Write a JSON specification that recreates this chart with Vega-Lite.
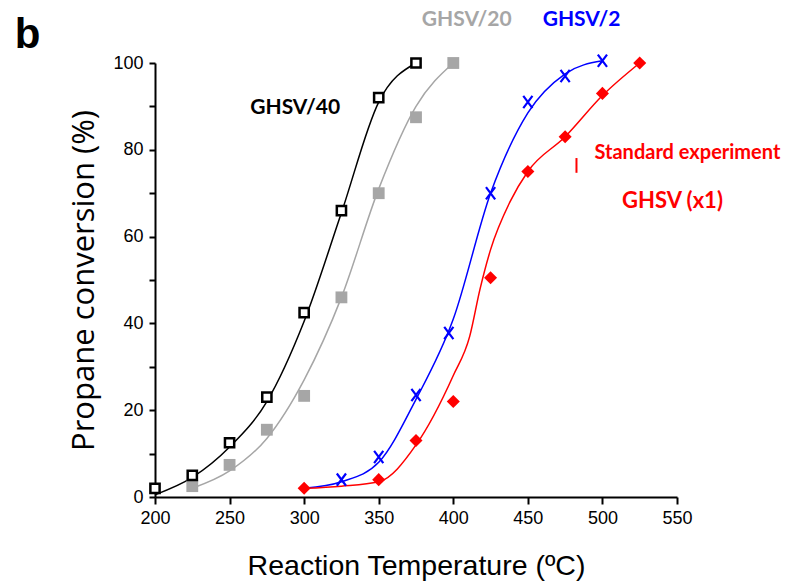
{
  "$schema": "https://vega.github.io/schema/vega-lite/v6.json",
  "width": 522,
  "height": 434,
  "autosize": "none",
  "padding": {"left": 155, "top": 63, "right": 112, "bottom": 85},
  "background": "white",
  "config": {"view": {"stroke": null}},
  "datasets": {
    "points": [
      {"series": "GHSV/40", "temp": 200, "conv": 2},
      {"series": "GHSV/40", "temp": 225, "conv": 5},
      {"series": "GHSV/40", "temp": 250, "conv": 12.5},
      {"series": "GHSV/40", "temp": 275, "conv": 23},
      {"series": "GHSV/40", "temp": 300, "conv": 42.5},
      {"series": "GHSV/40", "temp": 325, "conv": 66},
      {"series": "GHSV/40", "temp": 350, "conv": 92},
      {"series": "GHSV/40", "temp": 375, "conv": 100},
      {"series": "GHSV/20", "temp": 225, "conv": 2.5},
      {"series": "GHSV/20", "temp": 250, "conv": 7.4},
      {"series": "GHSV/20", "temp": 275, "conv": 15.5},
      {"series": "GHSV/20", "temp": 300, "conv": 23.3},
      {"series": "GHSV/20", "temp": 325, "conv": 46},
      {"series": "GHSV/20", "temp": 350, "conv": 70},
      {"series": "GHSV/20", "temp": 375, "conv": 87.5},
      {"series": "GHSV/20", "temp": 400, "conv": 100},
      {"series": "GHSV/2", "temp": 325, "conv": 4},
      {"series": "GHSV/2", "temp": 350, "conv": 9.2},
      {"series": "GHSV/2", "temp": 375, "conv": 23.5},
      {"series": "GHSV/2", "temp": 397, "conv": 37.8},
      {"series": "GHSV/2", "temp": 425, "conv": 70},
      {"series": "GHSV/2", "temp": 450, "conv": 91},
      {"series": "GHSV/2", "temp": 475, "conv": 97},
      {"series": "GHSV/2", "temp": 500, "conv": 100.5},
      {"series": "GHSV (x1)", "temp": 300, "conv": 2},
      {"series": "GHSV (x1)", "temp": 350, "conv": 4},
      {"series": "GHSV (x1)", "temp": 375, "conv": 13},
      {"series": "GHSV (x1)", "temp": 400, "conv": 22},
      {"series": "GHSV (x1)", "temp": 425, "conv": 50.5},
      {"series": "GHSV (x1)", "temp": 450, "conv": 75},
      {"series": "GHSV (x1)", "temp": 475, "conv": 83},
      {"series": "GHSV (x1)", "temp": 500, "conv": 93},
      {"series": "GHSV (x1)", "temp": 525, "conv": 100}
    ],
    "curves": [
      {"series": "GHSV/40", "temp": 200, "conv": 0.5},
      {"series": "GHSV/40", "temp": 225, "conv": 4.5},
      {"series": "GHSV/40", "temp": 250, "conv": 11.5},
      {"series": "GHSV/40", "temp": 275, "conv": 22},
      {"series": "GHSV/40", "temp": 300, "conv": 40.5},
      {"series": "GHSV/40", "temp": 325, "conv": 65.5},
      {"series": "GHSV/40", "temp": 350, "conv": 91},
      {"series": "GHSV/40", "temp": 375, "conv": 100},
      {"series": "GHSV/20", "temp": 225, "conv": 2},
      {"series": "GHSV/20", "temp": 250, "conv": 6},
      {"series": "GHSV/20", "temp": 275, "conv": 13.5},
      {"series": "GHSV/20", "temp": 300, "conv": 27},
      {"series": "GHSV/20", "temp": 325, "conv": 46},
      {"series": "GHSV/20", "temp": 350, "conv": 71},
      {"series": "GHSV/20", "temp": 375, "conv": 90},
      {"series": "GHSV/20", "temp": 400, "conv": 100},
      {"series": "GHSV/2", "temp": 300, "conv": 2},
      {"series": "GHSV/2", "temp": 325, "conv": 3.5},
      {"series": "GHSV/2", "temp": 350, "conv": 8},
      {"series": "GHSV/2", "temp": 375, "conv": 22.5},
      {"series": "GHSV/2", "temp": 400, "conv": 41},
      {"series": "GHSV/2", "temp": 425, "conv": 70},
      {"series": "GHSV/2", "temp": 450, "conv": 88.5},
      {"series": "GHSV/2", "temp": 475, "conv": 97.5},
      {"series": "GHSV/2", "temp": 500, "conv": 100.5},
      {"series": "GHSV (x1)", "temp": 300, "conv": 2},
      {"series": "GHSV (x1)", "temp": 325, "conv": 2.5},
      {"series": "GHSV (x1)", "temp": 350, "conv": 3.5},
      {"series": "GHSV (x1)", "temp": 375, "conv": 12},
      {"series": "GHSV (x1)", "temp": 400, "conv": 28},
      {"series": "GHSV (x1)", "temp": 411, "conv": 37},
      {"series": "GHSV (x1)", "temp": 418, "conv": 48},
      {"series": "GHSV (x1)", "temp": 425, "conv": 57},
      {"series": "GHSV (x1)", "temp": 438, "conv": 68},
      {"series": "GHSV (x1)", "temp": 450, "conv": 75},
      {"series": "GHSV (x1)", "temp": 475, "conv": 83},
      {"series": "GHSV (x1)", "temp": 500, "conv": 92.5},
      {"series": "GHSV (x1)", "temp": 525, "conv": 100}
    ],
    "labels": [
      {"series": "GHSV/40", "temp": 294, "conv": 89.6, "label": "GHSV/40", "size": "big"},
      {"series": "GHSV/20", "temp": 409, "conv": 110, "label": "GHSV/20", "size": "big"},
      {"series": "GHSV/2", "temp": 486, "conv": 110, "label": "GHSV/2", "size": "big"},
      {"series": "GHSV (x1)", "temp": 557, "conv": 79.2, "label": "Standard experiment", "size": "small"},
      {"series": "GHSV (x1)", "temp": 547, "conv": 68.2, "label": "GHSV (x1)", "size": "large"}
    ],
    "panel": [
      {"temp": 106, "conv": 103.5, "label": "b"}
    ]
  },
  "layer": [
    {
      "data": {"name": "curves"},
      "mark": {"type": "line", "interpolate": "monotone", "strokeWidth": 1.5, "clip": false},
      "encoding": {
        "x": {"field": "temp", "type": "quantitative", "scale": {"domain": [200, 550], "nice": false, "zero": false},
          "axis": {"title": "Reaction Temperature (ºC)", "values": [200,225,250,275,300,325,350,375,400,425,450,475,500,525,550],
            "labelExpr": "datum.value % 50 === 0 ? datum.label : ''", "grid": false, "labelFlush": false, "labelOverlap": false,
            "domainColor": "black", "domainWidth": 2, "tickColor": "black", "tickWidth": 2, "tickSize": 7,
            "labelFont": "Liberation Sans", "labelFontSize": 18, "labelColor": "black", "labelPadding": 5,
            "titleFont": "Liberation Sans", "titleFontSize": 28.5, "titleFontWeight": "normal", "titleColor": "black", "titlePadding": 24}},
        "y": {"field": "conv", "type": "quantitative", "scale": {"domain": [0, 100], "nice": false},
          "axis": {"title": "Propane conversion (%)", "values": [0,10,20,30,40,50,60,70,80,90,100],
            "labelExpr": "datum.value % 20 === 0 ? datum.label : ''", "grid": false, "labelFlush": false, "labelOverlap": false,
            "domainColor": "black", "domainWidth": 2, "tickColor": "black", "tickWidth": 2, "tickSize": 6,
            "labelFont": "Liberation Sans", "labelFontSize": 18, "labelColor": "black", "labelPadding": 6,
            "titleFont": "Open Sans", "titleFontSize": 31, "titleFontWeight": "normal", "titleColor": "black", "titlePadding": 12}},
        "color": {"field": "series", "type": "nominal", "legend": null,
          "scale": {"domain": ["GHSV/40", "GHSV/20", "GHSV/2", "GHSV (x1)"], "range": ["#000000", "#a6a6a6", "#0000ff", "#ff0000"]}},
        "detail": {"field": "series"}
      }
    },
    {
      "data": {"name": "points"},
      "transform": [{"filter": "datum.series === 'GHSV/20'"}],
      "mark": {"type": "point", "shape": "square", "filled": true, "fill": "#a6a6a6", "opacity": 1, "size": 140, "clip": false},
      "encoding": {"x": {"field": "temp", "type": "quantitative"}, "y": {"field": "conv", "type": "quantitative"}}
    },
    {
      "data": {"name": "points"},
      "transform": [{"filter": "datum.series === 'GHSV/40'"}],
      "mark": {"type": "point", "shape": "square", "filled": false, "fill": "white", "fillOpacity": 1, "stroke": "black", "strokeWidth": 2.5, "opacity": 1, "size": 85, "clip": false},
      "encoding": {"x": {"field": "temp", "type": "quantitative"}, "y": {"field": "conv", "type": "quantitative"}}
    },
    {
      "data": {"name": "points"},
      "transform": [{"filter": "datum.series === 'GHSV/2'"}],
      "mark": {"type": "point", "shape": "M-0.75,-1L0.75,1M0.75,-1L-0.75,1", "filled": false, "stroke": "#0000ff", "strokeWidth": 2.2, "opacity": 1, "size": 150, "clip": false},
      "encoding": {"x": {"field": "temp", "type": "quantitative"}, "y": {"field": "conv", "type": "quantitative"}}
    },
    {
      "data": {"name": "points"},
      "transform": [{"filter": "datum.series === 'GHSV (x1)'"}],
      "mark": {"type": "point", "shape": "diamond", "filled": true, "fill": "#ff0000", "opacity": 1, "size": 170, "clip": false},
      "encoding": {"x": {"field": "temp", "type": "quantitative"}, "y": {"field": "conv", "type": "quantitative"}}
    },
    {
      "data": {"values": [{"temp": 482.6, "conv": 78.1, "conv2": 74.7}]},
      "mark": {"type": "rule", "color": "#ff0000", "strokeWidth": 2},
      "encoding": {"x": {"field": "temp", "type": "quantitative"}, "y": {"field": "conv", "type": "quantitative"}, "y2": {"field": "conv2"}}
    },
    {
      "data": {"name": "labels"},
      "mark": {"type": "text", "font": "Lato", "fontWeight": "bold", "align": "center", "baseline": "middle"},
      "encoding": {
        "x": {"field": "temp", "type": "quantitative"},
        "y": {"field": "conv", "type": "quantitative"},
        "text": {"field": "label"},
        "size": {"field": "size", "type": "nominal", "legend": null, "scale": {"domain": ["small", "big", "large"], "range": [20, 22, 23.5]}},
        "color": {"field": "series", "type": "nominal", "legend": null}
      }
    },
    {
      "data": {"name": "panel"},
      "mark": {"type": "text", "font": "Liberation Sans", "fontWeight": "bold", "fontSize": 42, "align": "left", "baseline": "alphabetic", "color": "black"},
      "encoding": {
        "x": {"field": "temp", "type": "quantitative"},
        "y": {"field": "conv", "type": "quantitative"},
        "text": {"field": "label"}
      }
    }
  ]
}
